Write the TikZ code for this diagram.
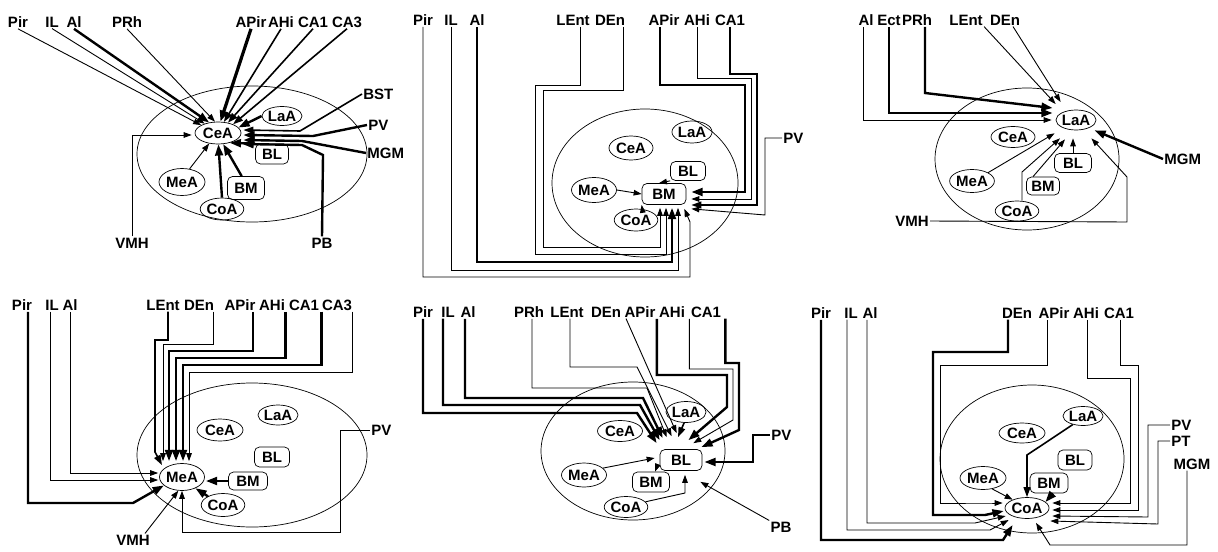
\documentclass[tikz,border=0pt]{standalone}
\usepackage{fontspec}
\setmainfont{Liberation Sans}
\usetikzlibrary{shapes.geometric,arrows.meta,calc}
\newcommand\mylbl{\bfseries\fontsize{7.5}{8}\selectfont}
\begin{document}
\begin{tikzpicture}[x=0.5pt,y=-0.5pt,
 lab/.style={font=\mylbl, inner sep=0.5pt},
 nuc/.style={ellipse, draw, line width=0.35pt, inner sep=0pt, font=\mylbl},
 box/.style={rectangle, rounded corners=2.5pt, draw, line width=0.35pt, inner sep=0pt, font=\mylbl},
 amyg/.style={ellipse, draw, line width=0.35pt, inner sep=0pt},
 thinarr/.style={draw, line width=0.45pt, -{Triangle[length=4pt,width=2.8pt]}},
 medarr/.style={draw, line width=0.8pt, -{Triangle[length=5pt,width=3.4pt]}},
 thickarr/.style={draw, line width=1.2pt, -{Triangle[length=5.6pt,width=3.9pt]}}]
\useasboundingbox (0,0) rectangle (1218,551);

% ================= Panel 1 (CeA) =================
\node[lab] (p1pir) at (18,22) {Pir};
\node[lab] (p1il) at (52,22) {IL};
\node[lab] (p1al) at (74,22) {Al};
\node[lab] (p1prh) at (127,22) {PRh};
\node[lab] (p1apir) at (251,22) {APir};
\node[lab] (p1ahi) at (281,22) {AHi};
\node[lab] (p1ca1) at (313,22) {CA1};
\node[lab] (p1ca3) at (347,22) {CA3};
\node[lab,anchor=west] (p1bst) at (362,94) {BST};
\node[lab,anchor=west] (p1pv) at (367,125) {PV};
\node[lab,anchor=west] (p1mgm) at (366,153) {MGM};
\node[lab] (p1vmh) at (132,243) {VMH};
\node[lab] (p1pb) at (322,243) {PB};
\node[amyg, minimum width=115pt, minimum height=68pt] (am1) at (252,154) {};
\node[nuc, minimum width=23pt, minimum height=11pt] (cea1) at (218,133) {CeA};
\node[nuc, minimum width=17pt, minimum height=9.5pt] (laa1) at (282,116) {LaA};
\node[box, minimum width=16.5pt, minimum height=10pt] (bl1) at (272,154) {BL};
\node[box, minimum width=18.5pt, minimum height=11.5pt] (bm1) at (246,188) {BM};
\node[nuc, minimum width=23pt, minimum height=13.5pt] (mea1) at (182,182) {MeA};
\node[nuc, minimum width=20pt, minimum height=11pt] (coa1) at (222,209) {CoA};

\draw[thinarr] (p1pir.south) -- (cea1.155);
\draw[thinarr] (p1il.south) -- (cea1.145);
\draw[thickarr] (p1al.south) -- (cea1.130);
\draw[thinarr] (p1prh.south) -- (cea1.105);
\draw[thickarr,line width=1.6pt] (p1apir.south) -- (cea1.78);
\draw[medarr] (p1ahi.south) -- (cea1.62);
\draw[medarr] (p1ca1.south) -- (cea1.46);
\draw[medarr] (p1ca3.south) -- (cea1.30);
\draw[thickarr] (laa1.west) -- (cea1.15);
\draw[medarr] (p1bst.west) -- (300,131) -- ($(cea1.east)+(2,-3)$);
\draw[thickarr] (p1pv.west) -- (313,136) -- ($(cea1.east)+(2,2)$);
\draw[thickarr] (p1mgm.west) -- (302,141) -- ($(cea1.east)+(2,7)$);
\draw[thickarr] (p1pb.north) -- (323,155) -- (302,145) -- ($(cea1.east)+(1,11)$);
\draw[thickarr] (bl1.north west) -- (cea1.-40);
\draw[thickarr] (bm1.110) -- (cea1.-65);
\draw[thickarr] (coa1.north) -- (cea1.-88);
\draw[thinarr] (mea1.60) -- (cea1.-130);
\draw[thinarr] (p1vmh.north) |- ($(cea1.west)+(-3,2)$);

% ================= Panel 2 (BM) =================
\node[lab] (p2pir) at (423,20) {Pir};
\node[lab] (p2il) at (451,20) {IL};
\node[lab] (p2al) at (477,20) {Al};
\node[lab] (p2lent) at (573,20) {LEnt};
\node[lab] (p2den) at (610,20) {DEn};
\node[lab] (p2apir) at (664,20) {APir};
\node[lab] (p2ahi) at (697,20) {AHi};
\node[lab] (p2ca1) at (730,20) {CA1};
\node[lab,anchor=west] (p2pv) at (782,138) {PV};
\node[amyg, minimum width=93pt, minimum height=74pt] (am2) at (645,183) {};
\node[nuc, minimum width=22pt, minimum height=12pt] (cea2) at (631,148) {CeA};
\node[nuc, minimum width=19pt, minimum height=11pt] (laa2) at (692,132) {LaA};
\node[box, minimum width=17.5pt, minimum height=9.5pt] (bl2) at (688,171) {BL};
\node[box, minimum width=22pt, minimum height=10.5pt] (bm2) at (664,194) {BM};
\node[nuc, minimum width=22.5pt, minimum height=12.5pt] (mea2) at (594,190) {MeA};
\node[nuc, minimum width=20pt, minimum height=11pt] (coa2) at (636,220) {CoA};

\draw[thinarr] ($(p2den.south)+(13,0)$) |- (543,90) |- (660,247) -- ($(bm2.south)+(-4,3)$);
\draw[thinarr] ($(p2lent.south)+(7,0)$) |- (535,85) |- (666,254) -- ($(bm2.south)+(2,3)$);
\draw[thickarr] (p2al.south) |- (672,262) -- ($(bm2.south)+(8,3)$);
\draw[thinarr] (p2il.south) |- (678,270) -- ($(bm2.south)+(14,3)$);
\draw[thinarr] (p2pir.south) |- (690,277) -- (690,222) -- ($(bm2.south east)+(-2,4)$);
\draw[thickarr] ($(p2apir.south)+(-4,0)$) |- (745,85) |- ($(bm2.east)+(5,-2)$);
\draw[thinarr] (p2ahi.south) |- (751,78) |- ($(bm2.east)+(5,5)$);
\draw[medarr] (p2ca1.south) |- (757,74) |- ($(bm2.east)+(5,11)$);
\draw[thinarr] (p2pv.west) -| (765,215) -- ($(bm2.south east)+(5,4)$);
\draw[thinarr] (mea2.east) -- (bm2.west);
\draw[thinarr] (bl2.south west) -- (bm2.115);
\draw[thinarr] (coa2.60) -- (bm2.south west);

% ================= Panel 3 (LaA) =================
\node[lab] (p3al) at (866,20) {Al};
\node[lab] (p3ect) at (889,20) {Ect};
\node[lab] (p3prh) at (917,20) {PRh};
\node[lab] (p3lent) at (966,20) {LEnt};
\node[lab] (p3den) at (1005,20) {DEn};
\node[lab,anchor=west] (p3mgm) at (1163,159) {MGM};
\node[lab] (p3vmh) at (912,221) {VMH};
\node[amyg, minimum width=92pt, minimum height=71pt] (am3) at (1027,159) {};
\node[nuc, minimum width=18pt, minimum height=10pt] (laa3) at (1076,120) {LaA};
\node[nuc, minimum width=22pt, minimum height=10.5pt] (cea3) at (1013,137) {CeA};
\node[nuc, minimum width=19.5pt, minimum height=11.5pt] (mea3) at (972,181) {MeA};
\node[box, minimum width=18.5pt, minimum height=9.5pt] (bl3) at (1073,163) {BL};
\node[box, minimum width=16.5pt, minimum height=9pt] (bm3) at (1043,186) {BM};
\node[nuc, minimum width=19pt, minimum height=10pt] (coa3) at (1017,211) {CoA};

\draw[thinarr] ($(p3al.south)+(-3,0)$) |- ($(laa3.west)+(-4,0)$);
\draw[thickarr] (p3ect.south) |- ($(laa3.west)+(-3,-7)$);
\draw[thickarr] ($(p3prh.south)+(8,0)$) -- (925,93) -- ($(laa3.west)+(-3,-12)$);
\draw[thinarr] (p3lent.south east) -- ($(laa3.west)+(0,-16)$);
\draw[thinarr] ($(p3den.south)+(8,0)$) -- ($(laa3.west)+(5,-18)$);
\draw[thickarr] (p3mgm.west) -- ($(laa3.south east)+(4,3)$);
\draw[thinarr] (p3vmh.east) -- (1127,222) -- (1127,177) -- ($(laa3.south east)+(1,11)$);
\draw[thinarr] (bl3.north) -- ($(laa3.south)+(-3,8)$);
\draw[thinarr] ($(bm3.north)+(-10,0)$) -- ($(laa3.south)+(-11,9)$);
\draw[thinarr] ($(coa3.north)+(5,0)$) -- (1022,172) -- ($(laa3.south)+(-16,8)$);
\draw[thinarr] (mea3.north east) -- ($(laa3.south west)+(-7,6)$);

% ================= Panel 4 (MeA) =================
\node[lab] (p4pir) at (22,305) {Pir};
\node[lab] (p4il) at (52,305) {IL};
\node[lab] (p4al) at (70,305) {Al};
\node[lab] (p4lent) at (163,305) {LEnt};
\node[lab] (p4den) at (199,305) {DEn};
\node[lab] (p4apir) at (240,305) {APir};
\node[lab] (p4ahi) at (272,305) {AHi};
\node[lab] (p4ca1) at (304,305) {CA1};
\node[lab] (p4ca3) at (337,305) {CA3};
\node[lab,anchor=west] (p4pv) at (370,430) {PV};
\node[lab] (p4vmh) at (133,540) {VMH};
\node[amyg, minimum width=115pt, minimum height=72pt] (am4) at (252,455) {};
\node[nuc, minimum width=23pt, minimum height=11pt] (cea4) at (220,430) {CeA};
\node[nuc, minimum width=18pt, minimum height=10pt] (laa4) at (278,415) {LaA};
\node[box, minimum width=17.5pt, minimum height=10pt] (bl4) at (272,457) {BL};
\node[box, minimum width=19.5pt, minimum height=9pt] (bm4) at (248,481) {BM};
\node[nuc, minimum width=22.5pt, minimum height=13.5pt] (mea4) at (182,477) {MeA};
\node[nuc, minimum width=20pt, minimum height=11.5pt] (coa4) at (223,505) {CoA};

\draw[thickarr] ($(p4pir.south)+(6,0)$) |- (133,503) -- (mea4.205);
\draw[thinarr] ($(p4il.south)+(-2,0)$) |- ($(mea4.west)+(-1,3)$);
\draw[thinarr] (p4al.south) |- ($(mea4.west)+(-1,-4)$);
\draw[medarr] ($(p4lent.south)+(5,0)$) |- (155,340) -- (155,452) -- ($(mea4.north)+(-20,2)$);
\draw[thinarr] ($(p4den.south east)+(-2,0)$) |- (163,344) -- ($(mea4.north)+(-19,-2)$);
\draw[thickarr] ($(p4apir.south east)+(-4,0)$) |- (169,351) -- ($(mea4.north)+(-13,-2)$);
\draw[thickarr] ($(p4ahi.south east)+(-1,0)$) |- (176,358) -- ($(mea4.north)+(-6,-2)$);
\draw[thickarr] ($(p4ca1.south east)+(1,0)$) |- (183,365) -- ($(mea4.north)+(1,-2)$);
\draw[thinarr] ($(p4ca3.south east)+(-1,0)$) |- (189,372) -- ($(mea4.north)+(7,-2)$);
\draw[thickarr] (bm4.west) -- ($(mea4.east)+(1,4)$);
\draw[thickarr] (coa4.150) -- (mea4.-40);
\draw[thinarr] ($(p4vmh.north)+(12,0)$) -- (mea4.-105);
\draw[thinarr] (p4pv.west) -| (340,532) -| (mea4.south);

% ================= Panel 5 (BL) =================
\node[lab] (p5pir) at (423,312) {Pir};
\node[lab] (p5il) at (448,312) {IL};
\node[lab] (p5al) at (468,312) {Al};
\node[lab] (p5prh) at (529,312) {PRh};
\node[lab] (p5lent) at (567,312) {LEnt};
\node[lab] (p5den) at (606,312) {DEn};
\node[lab] (p5apir) at (640,312) {APir};
\node[lab] (p5ahi) at (672,312) {AHi};
\node[lab] (p5ca1) at (706,312) {CA1};
\node[lab,anchor=west] (p5pv) at (770,435) {PV};
\node[lab] (p5pb) at (781,527) {PB};
\node[amyg, minimum width=92pt, minimum height=69pt] (am5) at (633,451) {};
\node[nuc, minimum width=18.5pt, minimum height=10.5pt] (laa5) at (686,412) {LaA};
\node[nuc, minimum width=22.5pt, minimum height=10.5pt] (cea5) at (620,431) {CeA};
\node[box, minimum width=21pt, minimum height=10.5pt] (bl5) at (681,460) {BL};
\node[nuc, minimum width=22.5pt, minimum height=12pt] (mea5) at (584,475) {MeA};
\node[box, minimum width=18.5pt, minimum height=10pt] (bm5) at (651,482) {BM};
\node[nuc, minimum width=19pt, minimum height=10.5pt] (coa5) at (626,507) {CoA};

\draw[thickarr] (p5pir.south) |- (637,413) -- ($(bl5.north west)+(-3,-6)$);
\draw[thickarr] ($(p5il.south)+(-5,0)$) |- (640,405) -- ($(bl5.north west)+(0,-9)$);
\draw[thickarr] ($(p5al.south)+(-3,0)$) |- (643,398) -- ($(bl5.north west)+(3,-11)$);
\draw[thinarr] ($(p5prh.south)+(3,0)$) |- (647,388) -- ($(bl5.north west)+(7,-12)$);
\draw[thinarr] ($(p5lent.south)+(3,0)$) |- (637,367) -- ($(bl5.north west)+(12,-13)$);
\draw[thinarr] ($(p5den.south)+(20,0)$) -- ($(bl5.north west)+(17,-16)$);
\draw[medarr] (laa5.-100) -- ($(bl5.north)+(-3,-12)$);
\draw[thickarr] (p5apir.south east) |- (727,375) -- (727,407) -- ($(bl5.north east)+(-14,-9)$);
\draw[thinarr] ($(p5ahi.south east)+(3,0)$) |- (733,369) -- (733,420) -- ($(bl5.north east)+(-9,-6)$);
\draw[thickarr] ($(p5ca1.south east)+(3,0)$) |- (739,363) -- (739,430) -- ($(bl5.north east)+(-1,-2)$);
\draw[thickarr] (p5pv.west) -| (753,462) -- ($(bl5.east)+(2,2)$);
\draw[thinarr] (p5pb.north west) -- ($(bl5.south east)+(-2,11)$);
\draw[thinarr] (mea5.20) -- ($(bl5.west)+(-5,-2)$);
\draw[thinarr] (coa5.15) -- (685,493) -- ($(bl5.south)+(4,4)$);
\draw[thinarr] ($(bl5.south west)+(-2,-6)$) -- ($(bm5.north)+(4,0)$);

% ================= Panel 6 (CoA) =================
\node[lab] (p6pir) at (821,313) {Pir};
\node[lab] (p6il) at (851,313) {IL};
\node[lab] (p6al) at (870,313) {Al};
\node[lab] (p6den) at (1017,313) {DEn};
\node[lab] (p6apir) at (1054,313) {APir};
\node[lab] (p6ahi) at (1086,313) {AHi};
\node[lab] (p6ca1) at (1119,313) {CA1};
\node[lab,anchor=west] (p6pv) at (1170,425) {PV};
\node[lab,anchor=west] (p6pt) at (1170,441) {PT};
\node[lab] (p6mgm) at (1192,464) {MGM};
\node[amyg, minimum width=92pt, minimum height=74pt] (am6) at (1032,459) {};
\node[nuc, minimum width=18.5pt, minimum height=9.5pt] (laa6) at (1083,416) {LaA};
\node[nuc, minimum width=23pt, minimum height=10pt] (cea6) at (1022,433) {CeA};
\node[box, minimum width=17pt, minimum height=10pt] (bl6) at (1075,460) {BL};
\node[nuc, minimum width=23pt, minimum height=11.5pt] (mea6) at (983,478) {MeA};
\node[box, minimum width=19pt, minimum height=10pt] (bm6) at (1049,483) {BM};
\node[nuc, minimum width=22pt, minimum height=10.5pt] (coa6) at (1027,508) {CoA};

\draw[thickarr] (p6pir.south) |- (1003,540) -- ($(coa6.west)+(8,17)$);
\draw[thinarr] ($(p6il.south)+(-4,0)$) |- (990,530) -- ($(coa6.west)+(4,12)$);
\draw[thinarr] ($(p6al.south)+(-3,0)$) |- (975,523) -- ($(coa6.west)+(1,8)$);
\draw[thickarr] ($(p6den.south)+(-9,0)$) |- (933,352) |- (985,515) -- ($(coa6.west)+(-1,3)$);
\draw[thinarr] ($(p6apir.south)+(-7,0)$) |- (940,365) |- (990,503) -- ($(coa6.west)+(-2,-5)$);
\draw[thinarr] ($(p6ahi.south)+(1,0)$) |- (1130,378) |- ($(coa6.east)+(3,-5)$);
\draw[thinarr] ($(p6ca1.south)+(1,0)$) |- (1138,365) |- ($(coa6.east)+(3,2)$);
\draw[thinarr] (p6pv.west) -| (1148,517) -- ($(coa6.east)+(3,8)$);
\draw[thinarr] (p6pt.west) -| (1158,524) -- ($(coa6.east)+(1,13)$);
\draw[thinarr] ($(p6mgm.south)+(-5,0)$) |- (1050,545) -- ($(coa6.south)+(9,4)$);
\draw[medarr] (laa6.-140) -- (1027,455) -- (coa6.north);
\draw[thinarr] (mea6.-50) -- (coa6.150);
\draw[thickarr] ($(bm6.south)+(4,0)$) -- ($(coa6.east)+(-4,-6)$);
\end{tikzpicture}
\end{document}
